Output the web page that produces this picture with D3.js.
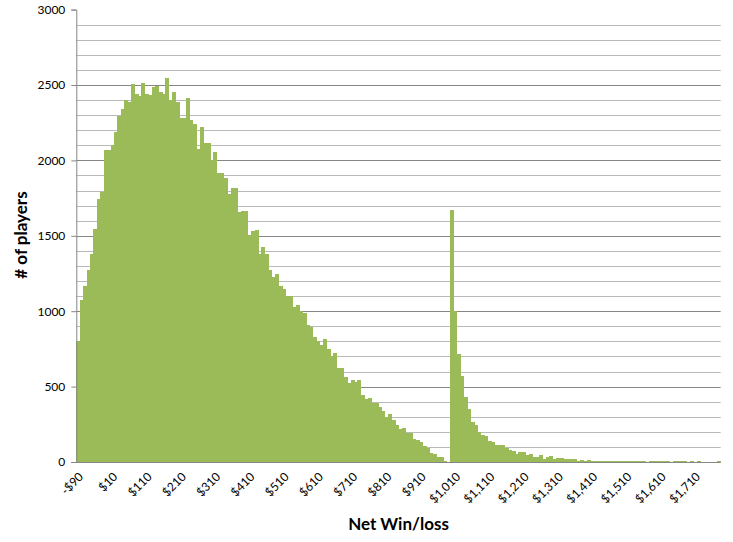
<!DOCTYPE html>
<html>
<head>
<meta charset="utf-8">
<script src="https://cdn.jsdelivr.net/npm/d3@7"></script>
<style>
  html, body { margin: 0; padding: 0; background: #fff; }
  svg { display: block; }
  text { font-family: Lato, "Open Sans", sans-serif; fill: #000; }
</style>
</head>
<body>
<svg id="chart" width="733" height="542"></svg>
<script>
// Bin start values (net win/loss, $10 bins)
const categories = d3.range(-90, 1790, 10);

// Number of players per bin
const players = [
  803, 1075, 1168, 1274, 1380, 1546, 1745, 1792, 2070, 2070,
  2101, 2190, 2296, 2342, 2400, 2389, 2508, 2442, 2429, 2515,
  2442, 2435, 2488, 2495, 2455, 2442, 2548, 2402, 2455, 2390,
  2283, 2283, 2415, 2270, 2243, 2077, 2223, 2117, 2117, 2004,
  2057, 1918, 1918, 1885, 1778, 1818, 1818, 1659, 1666, 1666,
  1506, 1533, 1540, 1380, 1427, 1380, 1274, 1228, 1248, 1168,
  1148, 1102, 1102, 1029, 1042, 1002, 989, 909, 896, 830,
  803, 776, 816, 750, 703, 723, 624, 624, 564, 524,
  544, 531, 544, 445, 418, 425, 389, 391, 365, 338,
  299, 318, 279, 246, 219, 226, 192, 192, 153, 146,
  133, 106, 93, 60, 53, 33, 33, 8, 3, 1670,
  1000, 716, 571, 430, 352, 265, 246, 199, 179, 172,
  139, 133, 113, 113, 113, 93, 80, 73, 53, 66,
  66, 46, 53, 33, 33, 46, 20, 33, 40, 20,
  27, 27, 20, 20, 20, 20, 7, 13, 7, 13,
  7, 7, 7, 7, 7, 7, 7, 7, 7, 7,
  7, 7, 7, 7, 7, 7, 0, 7, 7, 7,
  7, 7, 7, 0, 7, 7, 7, 7, 0, 7,
  0, 7, 0, 0, 0, 0, 0, 7
];

// Labelled categories and their labels
const tickCategories = [-90, 10, 110, 210, 310, 410, 510, 610, 710, 810, 910,
  1010, 1110, 1210, 1310, 1410, 1510, 1610, 1710];
const tickLabels = ["-$90", "$10", "$110", "$210", "$310", "$410", "$510", "$610", "$710",
  "$810", "$910", "$1,010", "$1,110", "$1,210", "$1,310", "$1,410", "$1,510", "$1,610", "$1,710"];

const yMajorTicks = [0, 500, 1000, 1500, 2000, 2500, 3000];
const yMinorTicks = d3.range(0, 3000, 100);

(function () {
const svg = d3.select("#chart");
const pLeft = 76.3, pRight = 720.7, pTop = 9.6, pBottom = 462;

const x = d3.scaleBand().domain(categories).range([pLeft, pRight]).padding(0);
const y = d3.scaleLinear().domain([0, 3000]).range([pBottom, pTop]);

// minor gridlines
svg.append("g").selectAll("line")
  .data(yMinorTicks.filter(d => d % 500 !== 0))
  .join("line")
  .attr("x1", pLeft).attr("x2", pRight)
  .attr("y1", d => Math.round(y(d)) + 0.5).attr("y2", d => Math.round(y(d)) + 0.5)
  .attr("stroke", "#b9b9b9").attr("stroke-width", 1);

// major gridlines
svg.append("g").selectAll("line")
  .data(yMajorTicks.filter(d => d > 0 && d < 3000))
  .join("line")
  .attr("x1", pLeft).attr("x2", pRight)
  .attr("y1", d => Math.round(y(d)) + 0.5).attr("y2", d => Math.round(y(d)) + 0.5)
  .attr("stroke", "#868686").attr("stroke-width", 1);

// bars
svg.append("g").attr("shape-rendering", "crispEdges").selectAll("rect")
  .data(categories.map((c, i) => ({ c, v: players[i] })))
  .join("rect")
  .attr("x", d => x(d.c))
  .attr("width", x.bandwidth() + 0.6)
  .attr("y", d => y(d.v))
  .attr("height", d => y(0) - y(d.v))
  .attr("fill", "#9BBB59");

// y axis
const yAxis = d3.axisLeft(y).tickValues(yMajorTicks).tickSize(5).tickPadding(6)
  .tickFormat(d3.format("d"));
const gy = svg.append("g").attr("transform", `translate(${pLeft},0)`).call(yAxis);
gy.select(".domain").attr("stroke", "#868686");
gy.selectAll(".tick line").attr("stroke", "#868686");
gy.selectAll(".tick text").style("font-size", "12px").attr("fill", "#000");

// x axis
const labelMap = new Map(tickCategories.map((c, i) => [c, tickLabels[i]]));
const xAxis = d3.axisBottom(x).tickValues(tickCategories).tickSize(0).tickPadding(0)
  .tickFormat(d => labelMap.get(d));
const gx = svg.append("g").attr("transform", `translate(0,${pBottom})`).call(xAxis);
gx.select(".domain").remove();
gx.selectAll(".tick text")
  .style("font-size", "12px")
  .attr("fill", "#000")
  .attr("text-anchor", "end")
  .attr("dy", 0)
  .attr("transform", "translate(6,15.5) rotate(-45)");
svg.append("line")
  .attr("x1", pLeft - 4).attr("x2", pRight)
  .attr("y1", pBottom + 0.5).attr("y2", pBottom + 0.5)
  .attr("stroke", "#868686");

// axis titles
svg.append("text")
  .attr("x", (pLeft + pRight) / 2).attr("y", 530)
  .attr("text-anchor", "middle")
  .style("font-size", "17px").style("font-weight", "bold")
  .text("Net Win/loss");

svg.append("text")
  .attr("transform", "translate(27,235) rotate(-90)")
  .attr("text-anchor", "middle")
  .style("font-size", "17px").style("font-weight", "bold")
  .text("# of players");
})();
</script>
</body>
</html>
